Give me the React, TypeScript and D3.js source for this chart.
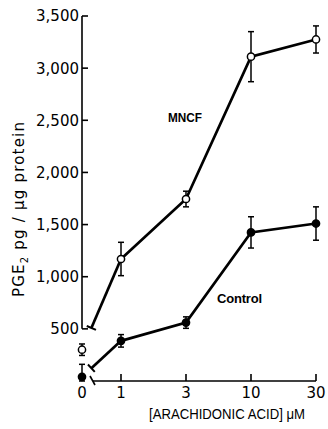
import React from "react";
import * as d3 from "d3";

const categories = ["0", "1", "3", "10", "30"];
const mncfValues = [300, 1170, 1745, 3110, 3275];
const mncfErrors = [55, 160, 75, 240, 130];
const controlValues = [40, 385, 560, 1425, 1510];
const controlErrors = [120, 60, 55, 150, 160];
const yTicks = [500, 1000, 1500, 2000, 2500, 3000, 3500];
const yTickLabels = ["500", "1,000", "1,500", "2,000", "2,500", "3,000", "3,500"];

const W = 328;
const H = 429;
const axisX = 82;
const font = "'DejaVu Sans', 'Liberation Sans', sans-serif";
const font2 = "'Liberation Sans', Arial, sans-serif";

export default function App() {
  const y = d3.scaleLinear().domain([0, 3500]).range([381, 16]);
  const xp = d3.scalePoint<string>().domain(categories.slice(1)).range([121, 316]);
  const x = (c: string) => (c === "0" ? axisX : (xp(c) as number));
  const line = d3.line<[number, number]>().x((d) => d[0]).y((d) => d[1]);

  const series = [
    { vals: mncfValues, errs: mncfErrors, open: true },
    { vals: controlValues, errs: controlErrors, open: false },
  ];

  const breakFrac = 0.76;

  return (
    <svg width={W} height={H} style={{ position: "absolute", left: 0, top: 0, background: "#fff" }}>
      <rect x={0} y={0} width={W} height={H} fill="#fff" />
      {/* y axis */}
      <line x1={axisX} x2={axisX} y1={y(3500)} y2={y(500)} stroke="#000" strokeWidth={1.6} />
      {yTicks.map((t, i) => (
        <g key={t}>
          <line x1={axisX} x2={axisX + 6} y1={y(t)} y2={y(t)} stroke="#000" strokeWidth={1.6} />
          <text x={axisX - 3} y={y(t)} dy="0.36em" textAnchor="end" fontFamily={font} fontSize={15} fill="#000">
            {yTickLabels[i]}
          </text>
        </g>
      ))}
      {/* x axis */}
      <line x1={axisX + 11} x2={x("30")} y1={y(0)} y2={y(0)} stroke="#000" strokeWidth={1.6} />
      <line x1={axisX + 8} x2={axisX + 13} y1={y(0) - 5} y2={y(0) + 4} stroke="#000" strokeWidth={1.6} />
      {categories.slice(1).map((c) => (
        <line key={c} x1={x(c)} x2={x(c)} y1={y(0)} y2={y(0) - 7} stroke="#000" strokeWidth={1.6} />
      ))}
      {categories.map((c) => (
        <text key={c} x={x(c)} y={398} textAnchor="middle" fontFamily={font} fontSize={15} fill="#000">
          {c}
        </text>
      ))}
      <text x={149} y={419} textLength={156} lengthAdjust="spacingAndGlyphs" fontFamily={font2} fontSize={14} fill="#000">
        [ARACHIDONIC ACID] μM
      </text>
      <text
        transform={`translate(24,297) rotate(-90)`}
        textLength={175}
        lengthAdjust="spacing"
        fontFamily={font}
        fontSize={15}
        fill="#000"
      >
        PGE<tspan fontSize={10} dy={4}>2</tspan>
        <tspan dy={-4}> pg / μg protein</tspan>
      </text>

      {series.map((s, si) => {
        const pts: [number, number][] = categories.map((c, i) => [x(c), y(s.vals[i])]);
        const p1 = pts[1];
        const p0 = pts[0];
        const bx = p1[0] + (p0[0] - p1[0]) * breakFrac;
        const by = p1[1] + (p0[1] - p1[1]) * breakFrac;
        const dx = p0[0] - p1[0];
        const dy = p0[1] - p1[1];
        const len = Math.hypot(dx, dy);
        const nx = (-dy / len) * 5;
        const ny = (dx / len) * 5;
        return (
          <g key={si}>
            <path d={line(pts.slice(1)) as string} fill="none" stroke="#000" strokeWidth={2.7} />
            <path d={line([p1, [bx, by]]) as string} fill="none" stroke="#000" strokeWidth={2.7} />
            <line x1={bx - nx} y1={by - ny} x2={bx + nx} y2={by + ny} stroke="#000" strokeWidth={2} />
            {categories.map((c, i) => {
              const cx = x(c);
              const top = y(s.vals[i] + s.errs[i]);
              const bot = y(Math.max(0, s.vals[i] - s.errs[i]));
              return (
                <g key={c}>
                  <line x1={cx} x2={cx} y1={top} y2={bot} stroke="#000" strokeWidth={1.5} />
                  <line x1={cx - 3} x2={cx + 3} y1={top} y2={top} stroke="#000" strokeWidth={1.5} />
                  <line x1={cx - 3} x2={cx + 3} y1={bot} y2={bot} stroke="#000" strokeWidth={1.5} />
                  <circle
                    cx={cx}
                    cy={y(s.vals[i])}
                    r={3.6}
                    fill={s.open ? "#fff" : "#000"}
                    stroke="#000"
                    strokeWidth={1.5}
                  />
                </g>
              );
            })}
          </g>
        );
      })}

      <text x={168} y={122} textLength={34} lengthAdjust="spacingAndGlyphs" fontFamily={font2} fontWeight="bold" fontSize={13} fill="#000">
        MNCF
      </text>
      <text x={217} y={303} textLength={45} lengthAdjust="spacing" fontFamily={font2} fontWeight="bold" fontSize={13} fill="#000">
        Control
      </text>
    </svg>
  );
}
